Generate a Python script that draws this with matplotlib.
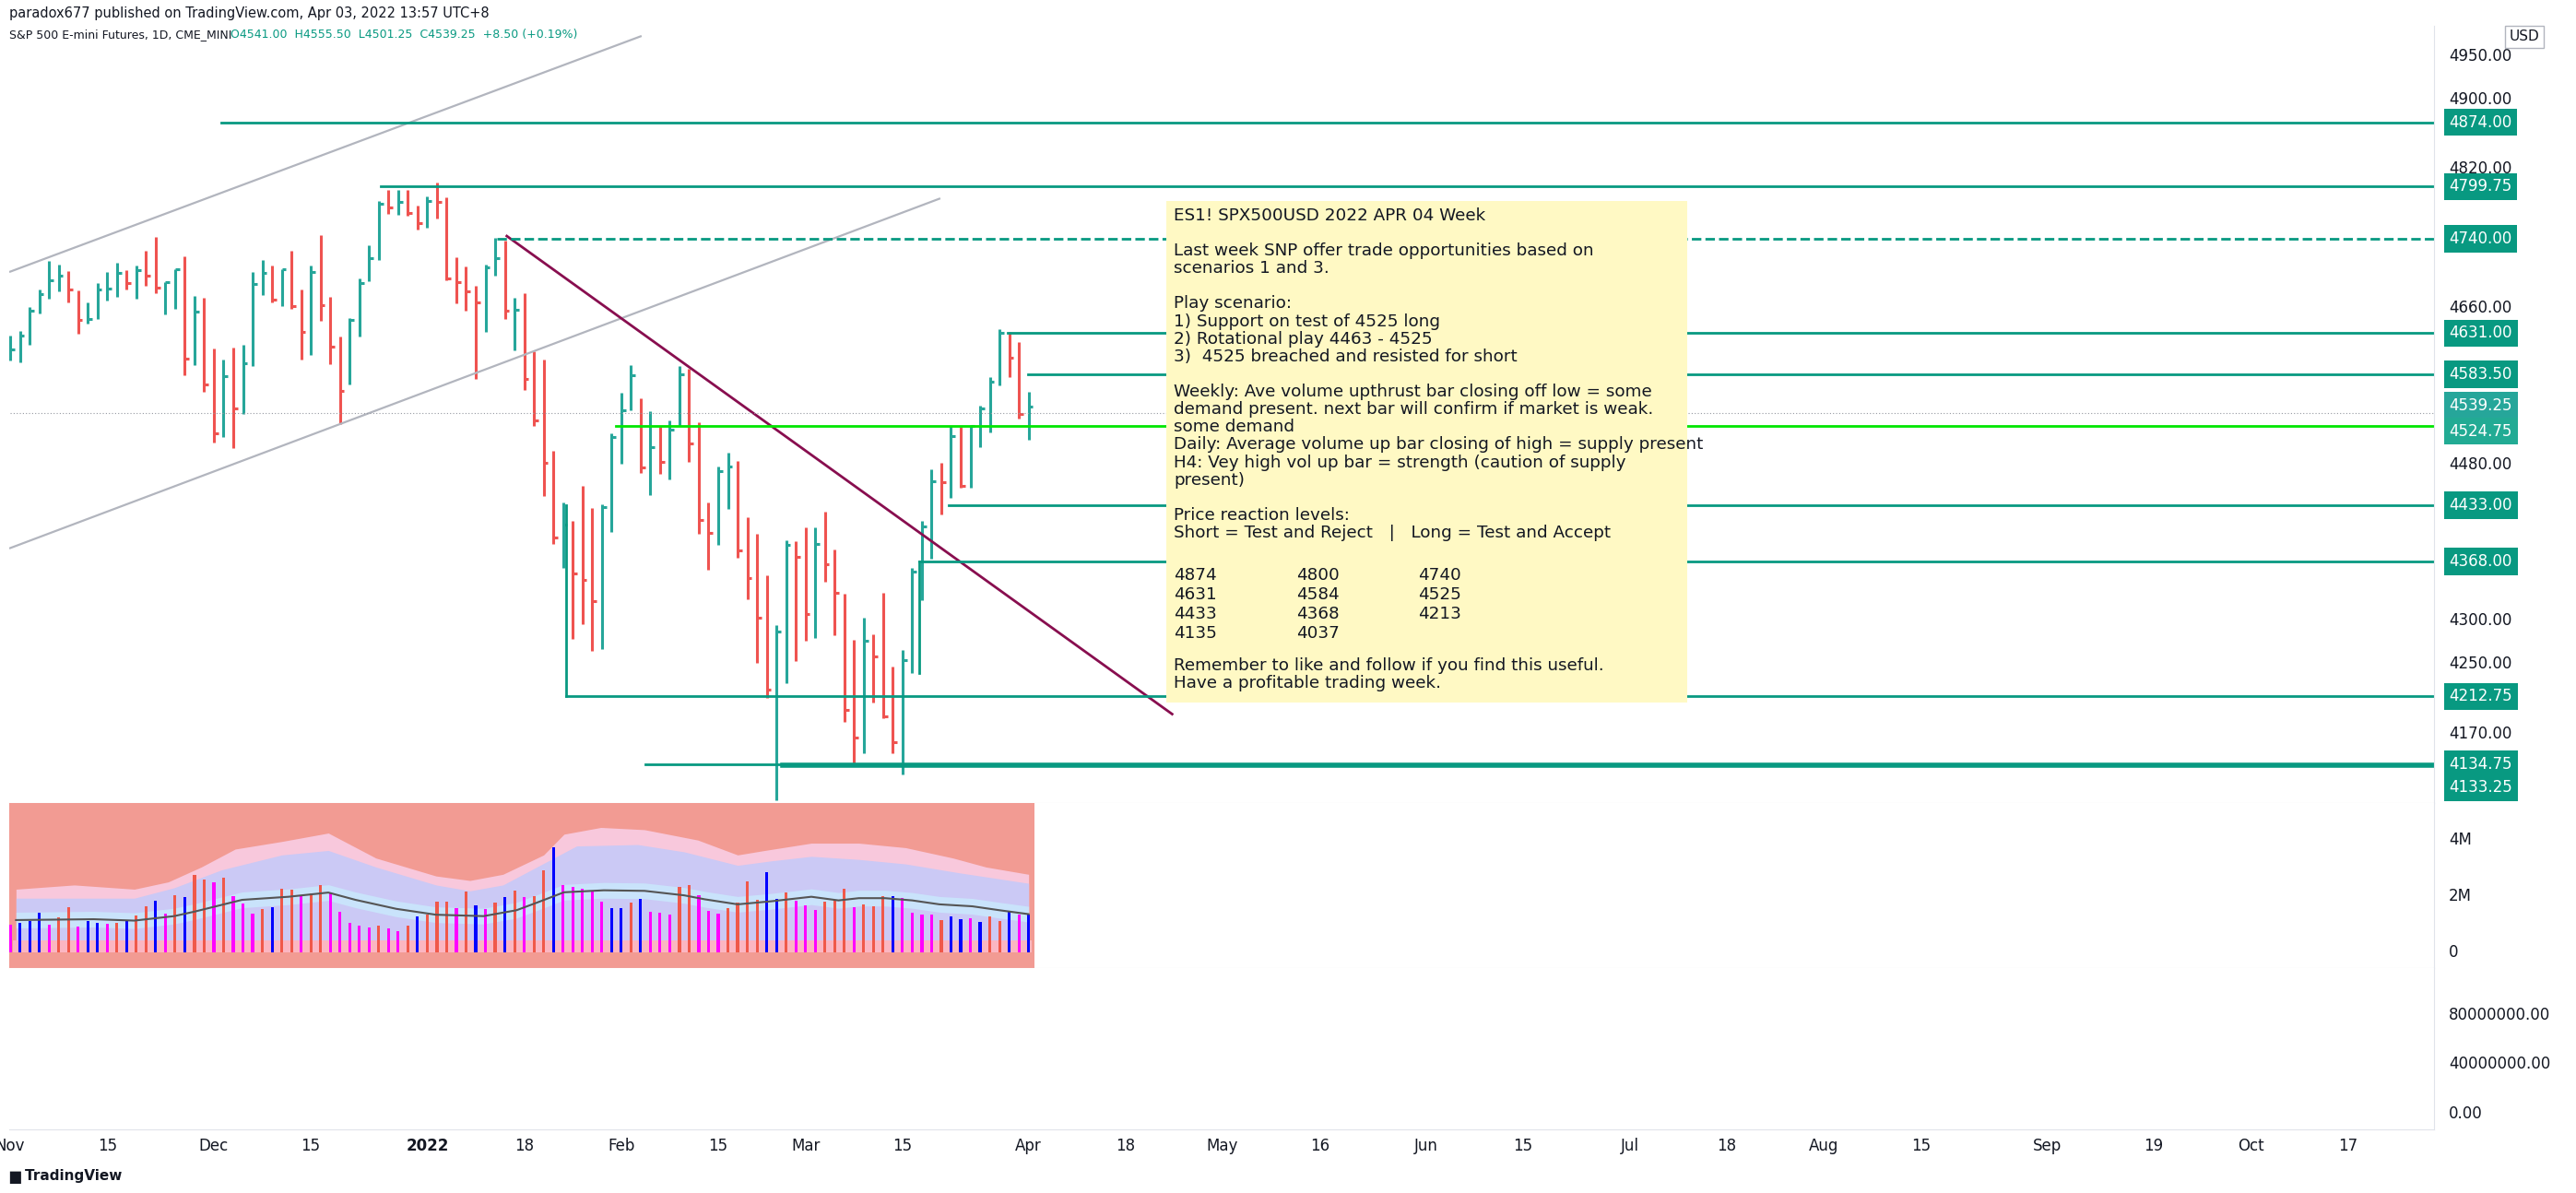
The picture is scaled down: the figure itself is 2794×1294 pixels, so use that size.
import matplotlib
matplotlib.use("Agg")
import matplotlib.pyplot as plt
import matplotlib.transforms as mtransforms
from matplotlib.patches import Rectangle
import numpy as np
import pandas as pd

# ---- data ----
highs = [4628, 4634, 4661, 4681, 4714, 4710, 4703, 4680, 4666, 4689, 4701, 4712, 4704, 4709, 4726, 4742, 4690, 4705, 4720, 4674, 4672, 4613, 4601, 4614, 4618, 4701, 4715, 4709, 4705, 4726, 4681, 4709, 4744, 4673, 4627, 4648, 4694, 4732, 4783, 4796, 4796, 4796, 4778, 4789, 4805, 4787, 4718, 4708, 4686, 4710, 4741, 4738, 4672, 4677, 4610, 4601, 4496, 4436, 4415, 4455, 4430, 4434, 4516, 4562, 4594, 4556, 4541, 4523, 4531, 4593, 4590, 4529, 4436, 4477, 4493, 4484, 4419, 4400, 4352, 4295, 4393, 4391, 4407, 4407, 4426, 4382, 4331, 4278, 4303, 4284, 4332, 4247, 4266, 4361, 4415, 4474, 4482, 4524, 4523, 4525, 4548, 4580, 4636, 4633, 4621, 4564]
lows = [4600, 4598, 4618, 4654, 4671, 4679, 4667, 4630, 4642, 4647, 4669, 4673, 4681, 4671, 4686, 4677, 4653, 4659, 4583, 4594, 4564, 4505, 4512, 4499, 4538, 4593, 4675, 4666, 4662, 4659, 4601, 4606, 4645, 4595, 4526, 4572, 4627, 4691, 4715, 4768, 4767, 4766, 4750, 4752, 4763, 4692, 4665, 4657, 4578, 4632, 4697, 4647, 4611, 4566, 4524, 4444, 4388, 4361, 4279, 4296, 4265, 4267, 4402, 4481, 4542, 4470, 4445, 4469, 4463, 4524, 4483, 4400, 4359, 4387, 4429, 4372, 4325, 4251, 4211, 4093, 4228, 4253, 4277, 4280, 4345, 4283, 4183, 4132, 4147, 4206, 4188, 4147, 4123, 4240, 4324, 4371, 4422, 4441, 4453, 4453, 4500, 4517, 4571, 4580, 4533, 4508]
closes = [4612, 4628, 4657, 4676, 4692, 4697, 4681, 4646, 4647, 4681, 4682, 4700, 4689, 4704, 4697, 4683, 4690, 4705, 4602, 4656, 4572, 4516, 4582, 4544, 4596, 4688, 4700, 4670, 4705, 4662, 4632, 4702, 4663, 4616, 4565, 4646, 4689, 4717, 4780, 4776, 4782, 4770, 4758, 4783, 4782, 4694, 4690, 4679, 4666, 4707, 4717, 4657, 4658, 4578, 4531, 4482, 4396, 4411, 4354, 4347, 4322, 4431, 4511, 4542, 4583, 4476, 4500, 4483, 4520, 4584, 4504, 4416, 4401, 4472, 4477, 4381, 4349, 4303, 4221, 4287, 4387, 4374, 4308, 4388, 4365, 4332, 4197, 4165, 4277, 4259, 4190, 4160, 4255, 4356, 4409, 4461, 4459, 4513, 4455, 4524, 4544, 4575, 4631, 4603, 4538, 4546]
up_bar = [c >= o for c, o in zip(closes, [closes[0]] + closes[:-1])]

volume_m = [0.98, 1.05, 1.14, 1.42, 0.98, 1.26, 1.61, 0.93, 1.14, 1.05, 1.02, 1.05, 1.14, 1.33, 1.65, 1.84, 1.39, 2.03, 1.97, 2.77, 2.61, 2.51, 2.67, 2.00, 1.74, 1.39, 1.56, 1.61, 2.29, 2.25, 2.06, 2.10, 2.42, 2.10, 1.46, 1.07, 0.95, 0.89, 0.95, 0.85, 0.76, 0.95, 1.30, 1.36, 1.81, 1.81, 1.58, 2.19, 1.68, 1.55, 1.78, 1.97, 2.22, 1.97, 2.00, 2.93, 3.76, 2.41, 2.35, 2.26, 2.22, 1.81, 1.58, 1.58, 1.78, 1.90, 1.46, 1.42, 1.36, 2.35, 2.41, 2.06, 1.49, 1.39, 1.58, 1.78, 2.54, 1.87, 2.86, 1.90, 2.13, 1.84, 1.68, 1.52, 1.81, 1.87, 2.29, 1.62, 1.71, 1.65, 2.00, 2.00, 1.94, 1.42, 1.36, 1.36, 1.17, 1.30, 1.20, 1.23, 1.10, 1.30, 1.14, 1.49, 1.37, 1.37]
volume_kind = list("mbbbmrrmbbmrbrrbmrbrrmrmmmrbrrmrrmmmmmrmmrbrrrmrbmrbrmrrbmmmmmbbrbmmmrrmmmrrrrbbrmmmrrrmrrrbmmmmrbbmbrrb")

ma_x = [0.6, 8.6, 12.8, 16.9, 19.0, 23.9, 28.7, 32.8, 35.6, 39.8, 43.9, 48.8, 52.2, 54.3, 57.1, 61.2, 65.4, 69.5, 71.6, 75.0, 78.5, 82.6, 85.4, 87.5, 90.2, 93.0, 95.8, 99.2, 102.0, 105.0]
ma_y = [1.16, 1.19, 1.14, 1.30, 1.46, 1.88, 1.99, 2.14, 1.88, 1.56, 1.35, 1.30, 1.51, 1.78, 2.15, 2.22, 2.20, 2.04, 1.90, 1.72, 1.83, 1.99, 1.86, 1.94, 1.94, 1.86, 1.72, 1.65, 1.51, 1.37]
lav_x = [0.6, 12.8, 16.9, 21.8, 28.0, 32.8, 37.7, 43.9, 47.4, 50.8, 54.3, 58.4, 64.7, 69.5, 75.0, 78.5, 82.6, 87.5, 92.3, 97.9, 105.0]
lav_y = [1.94, 1.94, 2.31, 2.95, 3.48, 3.64, 3.05, 2.41, 2.20, 2.41, 3.05, 3.80, 3.85, 3.59, 3.11, 3.27, 3.43, 3.32, 3.16, 2.84, 2.47]
pink_x = [0.6, 6.6, 12.8, 16.3, 19.7, 23.2, 28.0, 32.8, 37.7, 43.9, 47.4, 50.8, 55.0, 57.1, 60.9, 65.4, 70.9, 75.0, 77.8, 82.6, 87.5, 92.3, 97.2, 100.6, 105.0]
pink_y = [2.26, 2.41, 2.26, 2.52, 3.05, 3.69, 3.96, 4.26, 3.37, 2.73, 2.57, 2.79, 3.48, 4.22, 4.46, 4.38, 4.01, 3.48, 3.64, 3.90, 3.90, 3.74, 3.37, 3.05, 2.79]

# drawn levels: (price, start bar, style)
levels = [(4874.00, 21.8, "-"), (4799.75, 38.2, "-"), (4740.00, 50.2, "--"),
          (4631.00, 102.8, "-"), (4583.50, 104.9, "-"), (4433.00, 96.8, "-"),
          (4368.00, 93.7, "-"), (4212.75, 57.3, "-"), (4134.75, 65.5, "-")]
label_prices = [4874.00, 4799.75, 4740.00, 4631.00, 4583.50, 4539.25, 4524.75, 4433.00, 4368.00, 4212.75, 4134.75, 4133.25]
label_offsets = [0, 0, 0, 0, 0, 8, -6, 0, 0, 0, 0, -24]
price_ticks = [4950, 4900, 4820, 4660, 4480, 4300, 4250, 4170]

holidays = ["2021-11-25", "2021-12-24", "2022-01-17", "2022-02-21", "2022-04-15",
            "2022-05-30", "2022-06-20", "2022-07-04", "2022-09-05"]
date_ticks = [("2021-11-01", "Nov"), ("2021-11-15", "15"), ("2021-12-01", "Dec"), ("2021-12-15", "15"),
              ("2022-01-03", "2022"), ("2022-01-18", "18"), ("2022-02-01", "Feb"), ("2022-02-15", "15"),
              ("2022-03-01", "Mar"), ("2022-03-15", "15"), ("2022-04-01", "Apr"), ("2022-04-18", "18"),
              ("2022-05-02", "May"), ("2022-05-16", "16"), ("2022-06-01", "Jun"), ("2022-06-15", "15"),
              ("2022-07-01", "Jul"), ("2022-07-18", "18"), ("2022-08-01", "Aug"), ("2022-08-15", "15"),
              ("2022-09-01", "Sep"), ("2022-09-19", "19"), ("2022-10-03", "Oct"), ("2022-10-17", "17")]

note = ("ES1! SPX500USD 2022 APR 04 Week\n\n"
        "Last week SNP offer trade opportunities based on\nscenarios 1 and 3.\n\n"
        "Play scenario:\n1) Support on test of 4525 long\n2) Rotational play 4463 - 4525\n"
        "3)  4525 breached and resisted for short\n\n"
        "Weekly: Ave volume upthrust bar closing off low = some\n"
        "demand present. next bar will confirm if market is weak.\nsome demand\n"
        "Daily: Average volume up bar closing of high = supply present\n"
        "H4: Vey high vol up bar = strength (caution of supply\npresent)\n\n"
        "Price reaction levels:\nShort = Test and Reject   |   Long = Test and Accept")
note_table = [["4874", "4800", "4740"], ["4631", "4584", "4525"], ["4433", "4368", "4213"], ["4135", "4037", ""]]
note_end = "Remember to like and follow if you find this useful.\nHave a profitable trading week."

# ---- layout ----
W, H = 2794, 1294
TEAL = "#089981"
UP, DN = "#26a69a", "#ef5350"
FS = 13.2
fig = plt.figure(figsize=(W / 100, H / 100), dpi=100)
fig.patch.set_facecolor("white")

def rect(l, t, r, b):
    return [l / W, 1 - b / H, (r - l) / W, (b - t) / H]

ax = fig.add_axes(rect(10, 28, 2640, 871))
axv = fig.add_axes(rect(10, 871, 2640, 1050), sharex=ax)
ax3 = fig.add_axes(rect(10, 1050, 2640, 1225), sharex=ax)
XMAX = 249.9
for a in (ax, axv, ax3):
    a.set_xlim(-0.1, XMAX)
    a.tick_params(left=False, right=False, bottom=False, labelleft=False, labelbottom=False)
    for s in a.spines.values():
        s.set_color("#e0e3eb")
    a.spines["left"].set_visible(False)
    a.spines["top"].set_visible(False)
ax.set_ylim(4090, 4985)
axv.set_ylim(-0.55, 5.33)
ax3.set_ylim(-12.8e6, 117.7e6)

# ---- price bars ----
idx = np.arange(len(closes))
for i in idx:
    col = UP if up_bar[i] else DN
    ax.plot([i, i], [lows[i], highs[i]], color=col, lw=2.2, solid_capstyle="butt")
    ax.plot([i, i + 0.45], [closes[i], closes[i]], color=col, lw=2.2, solid_capstyle="butt")

# trendlines
ax.plot([0, 65], [4701.9, 4972.9], color="#b2b5be", lw=1.6)
ax.plot([0, 95.8], [4383.6, 4785.9], color="#b2b5be", lw=1.6)
ax.plot([51.2, 119.8], [4742.9, 4192.4], color="#880e4f", lw=2)

# levels
for p, x0, ls in levels:
    ax.plot([x0, XMAX], [p, p], color=TEAL, lw=2, ls=ls)
ax.plot([79.7, XMAX], [4133.25, 4133.25], color=TEAL, lw=4)
ax.plot([62.4, XMAX], [4524.75, 4524.75], color="#00e600", lw=2)
ax.plot([0, XMAX], [4539.25, 4539.25], color="#9598a1", lw=0.8, ls=(0, (1, 2)))
ax.plot([57.3, 57.3], [4433, 4212.75], color=TEAL, lw=2)
ax.plot([93.7, 93.7], [4368, 4240], color=TEAL, lw=2)

# note box
ax.add_patch(Rectangle((119.2, 4206), 53.7, 576.8, facecolor="#fff9c4", edgecolor="none", zorder=3))
ax.text(120.0, 4776, note, fontsize=FS, va="top", ha="left", color="#131722", zorder=4, linespacing=1.08)
for r, row in enumerate(note_table):
    for c, val in enumerate(row):
        ax.text(120.0 + c * 12.6, 4362 - r * 22.5, val, fontsize=FS, va="top", ha="left", color="#131722", zorder=4)
ax.text(120.0, 4258, note_end, fontsize=FS, va="top", ha="left", color="#131722", zorder=4, linespacing=1.08)

# right price scale
tr = mtransforms.blended_transform_factory(ax.transAxes, ax.transData)
for p in price_ticks:
    ax.text(1.006, p, f"{p:.2f}", transform=tr, fontsize=12, va="center", ha="left", color="#131722")
for p, off in zip(label_prices, label_offsets):
    fc = "#22ab94" if p == 4524.75 else TEAL
    if p == 4539.25:
        fc = "#26a69a"
    ax.annotate(f"{p:.2f}", (1.002, p), xycoords=tr, xytext=(8, off * 0.72), textcoords="offset points",
                fontsize=12, va="center", ha="left", color="white", annotation_clip=False,
                bbox=dict(boxstyle="square,pad=0.35", fc=fc, ec="none"))
fig.text(2722 / W, 1 - 40 / H, "USD", fontsize=11, va="center", ha="left", color="#131722",
         bbox=dict(boxstyle="square,pad=0.3", fc="white", ec="#b2b5be"))

# ---- volume panel ----
axv.fill_between([-0.5, 105.6], -0.55, 5.33, color="#f29b93", lw=0)
axv.fill_between(pink_x, 0.45, pink_y, color="#f8c8dc", lw=0)
axv.fill_between(lav_x, 0.45, lav_y, color="#cbc9f5", lw=0)
axv.fill_between(ma_x, np.array(ma_y) - 0.28, np.array(ma_y) + 0.28, color="#c9e3fb", lw=0)
axv.fill_between([0.3, 105.3], 0, 0.45, color="#fbb6c2", lw=0)
vcol = {"b": "#0000ff", "m": "#ff00ff", "r": "#f0584a"}
axv.bar(idx, volume_m, width=0.3, color=[vcol[k] for k in volume_kind], zorder=3)
axv.plot(ma_x, ma_y, color="#555555", lw=1.5, zorder=4)
trv = mtransforms.blended_transform_factory(axv.transAxes, axv.transData)
for v, lab in [(4, "4M"), (2, "2M"), (0, "0")]:
    axv.text(1.006, v, lab, transform=trv, fontsize=12, va="center", ha="left", color="#131722")

# third panel
tr3 = mtransforms.blended_transform_factory(ax3.transAxes, ax3.transData)
for v in [80e6, 40e6, 0]:
    ax3.text(1.006, v, f"{v:.2f}", transform=tr3, fontsize=12, va="center", ha="left", color="#131722")

# ---- date axis ----
bdays = pd.bdate_range("2021-11-01", "2022-12-30", freq="C", holidays=holidays)
pos = {d.strftime("%Y-%m-%d"): i for i, d in enumerate(bdays)}
trd = mtransforms.blended_transform_factory(ax3.transData, ax3.transAxes)
for d, lab in date_ticks:
    ax3.text(pos[d], -0.1, lab, transform=trd, fontsize=12, ha="center", va="center", color="#131722",
             fontweight="bold" if lab == "2022" else "normal", clip_on=False)

# header / footer
fig.text(10 / W, 1 - 14 / H, "paradox677 published on TradingView.com, Apr 03, 2022 13:57 UTC+8",
         fontsize=10.5, va="center", color="#131722")
fig.text(10 / W, 1 - 38 / H, "S&P 500 E-mini Futures, 1D, CME_MINI", fontsize=9, va="center", color="#131722")
fig.text(250 / W, 1 - 38 / H, "O4541.00  H4555.50  L4501.25  C4539.25  +8.50 (+0.19%)",
         fontsize=9, va="center", color="#089981")
fig.text(10 / W, 1 - 1276 / H, "\u2587 TradingView", fontsize=11, va="center", color="#131722", fontweight="bold")

fig.savefig("out.png", dpi=100)
